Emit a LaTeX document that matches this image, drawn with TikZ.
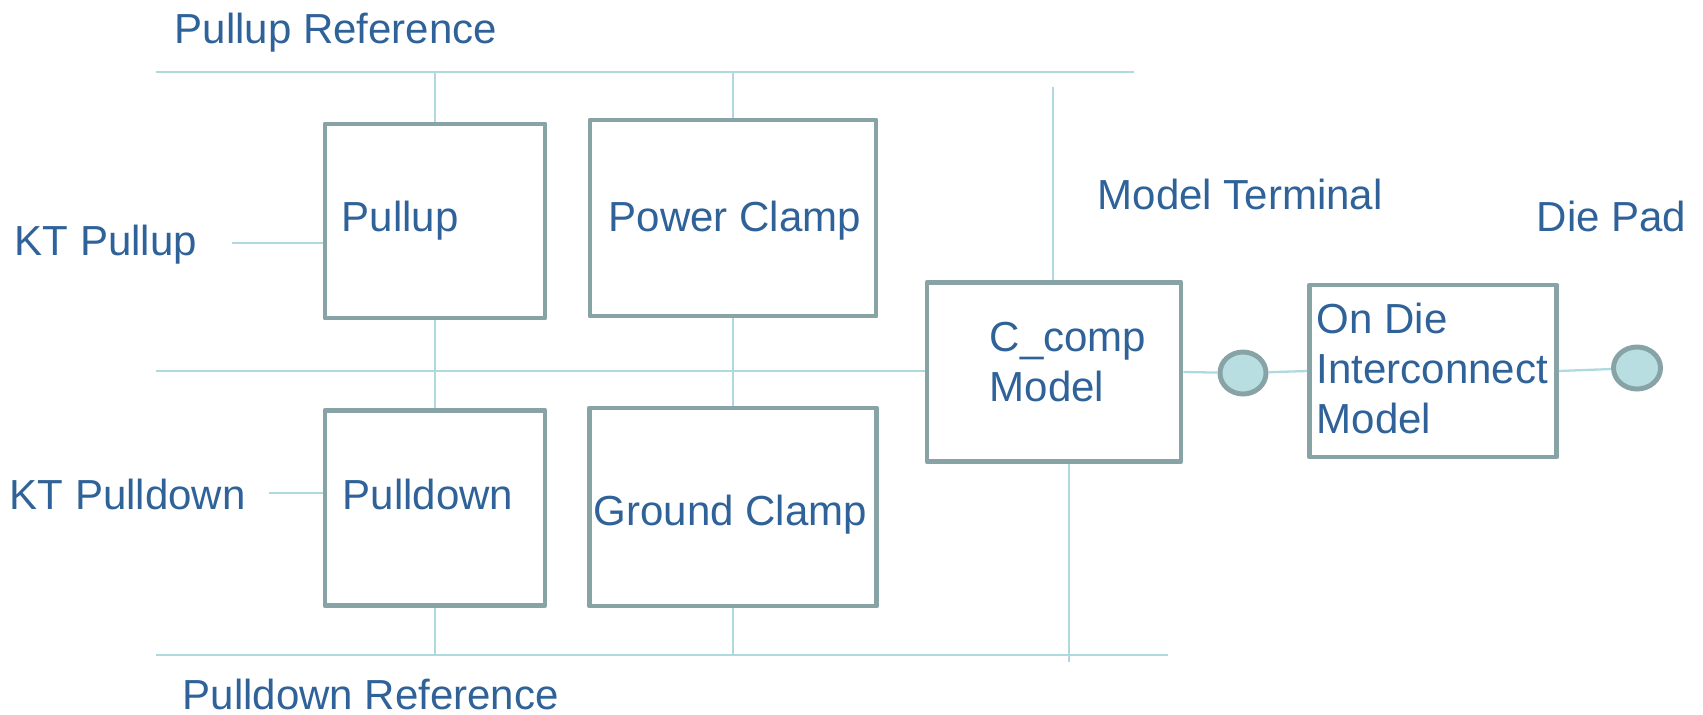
\documentclass[tikz,border=0pt]{standalone}
\usepackage{fontspec}
\setmainfont{Liberation Sans}
\usetikzlibrary{shapes.geometric}
\definecolor{boxgray}{RGB}{136,163,166}
\definecolor{railcyan}{RGB}{174,218,223}
\definecolor{padfill}{RGB}{184,222,226}
\definecolor{txtblue}{RGB}{46,98,152}

\begin{document}
\begin{tikzpicture}[x=0.01cm,y=-0.01cm,
  blk/.style={draw=boxgray,line width=1.35pt,line join=round,fill=white,rectangle,inner sep=0pt},
  pad/.style={draw=boxgray,line width=1.4pt,fill=padfill,ellipse,inner sep=0pt,minimum width=0.46cm,minimum height=0.42cm},
  wire/.style={draw=railcyan,line width=0.65pt},
  lbl/.style={text=txtblue,inner sep=0pt,font=\fontsize{11.95}{14.32}\selectfont}]
\useasboundingbox (0,0) rectangle (1703,714);

% blocks
\node[blk,minimum width=2.20cm,minimum height=1.94cm] (pullup) at (435,221) {};
\node[blk,minimum width=2.86cm,minimum height=1.96cm] (pwrclamp) at (733,218) {};
\node[blk,minimum width=2.20cm,minimum height=1.95cm] (pulldown) at (435,508) {};
\node[blk,minimum width=2.87cm,minimum height=1.98cm] (gndclamp) at (733,507) {};
\node[blk,minimum width=2.54cm,minimum height=1.79cm] (ccomp) at (1054,372) {};
\node[blk,minimum width=2.47cm,minimum height=1.72cm] (odi) at (1433,371) {};
\node[pad] (pad1) at (1243,373) {};
\node[pad,minimum width=0.47cm] (pad2) at (1637,368) {};

% rails and ends
\coordinate (pur w) at (156,72);
\coordinate (pur e) at (1134,72);
\coordinate (mid w) at (156,371);
\coordinate (pdr w) at (156,655);
\coordinate (pdr e) at (1168,655);
\coordinate (mt) at (1053,87);
\coordinate (cb) at (1069,662);
\coordinate (ktu) at (232,243);
\coordinate (ktd) at (269,493);

\draw[wire] (pur w) -- (pur e);
\draw[wire] (mid w) -- (mid w -| ccomp.west);
\draw[wire] (pdr w) -- (pdr e);
\draw[wire] (pullup.north) -- (pullup.north |- pur w);
\draw[wire] (pwrclamp.north) -- (pwrclamp.north |- pur w);
\draw[wire] (pullup.south) -- (pulldown.north);
\draw[wire] (pwrclamp.south) -- (gndclamp.north);
\draw[wire] (pulldown.south) -- (pulldown.south |- pdr w);
\draw[wire] (gndclamp.south) -- (gndclamp.south |- pdr w);
\draw[wire] (mt) -- (mt |- ccomp.north);
\draw[wire] (cb |- ccomp.south) -- (cb);
\draw[wire] (ktu) -- (ktu -| pullup.west);
\draw[wire] (ktd) -- (ktd -| pulldown.west);
\draw[wire] (ccomp.east) -- (pad1);
\draw[wire] (pad1) -- (odi.west);
\draw[wire] (odi.east) -- (pad2);

% labels
\node[lbl,anchor=base west] (purtxt) at (174,43) {Pullup Reference};
\node[lbl,anchor=base west] (ktutxt) at (14,255) {KT Pullup};
\node[lbl,anchor=base west] (pulluptxt) at (341,231) {Pullup};
\node[lbl,anchor=base west] (pwrtxt) at (608,231) {Power Clamp};
\node[lbl,anchor=base west] (mttxt) at (1097,209) {Model Terminal};
\node[lbl,anchor=base west] (padtxt) at (1536,231) {Die Pad};
\node[lbl,anchor=north west,align=left] (ccomptxt) at (989,321) {C\_comp\\Model};
\node[lbl,anchor=north west,align=left] (oditxt) at (1316,302) {On Die\\Interconnect\\Model};
\node[lbl,anchor=base west] (ktdtxt) at (9,509) {KT Pulldown};
\node[lbl,anchor=base west] (pulldowntxt) at (342,509) {Pulldown};
\node[lbl,anchor=base west] (gndtxt) at (593,525) {Ground Clamp};
\node[lbl,anchor=base west] (pdrtxt) at (182,709) {Pulldown Reference};
\end{tikzpicture}
\end{document}
